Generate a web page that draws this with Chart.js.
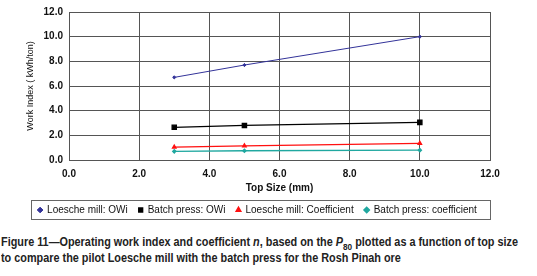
<!DOCTYPE html>
<html><head><meta charset="utf-8">
<script src="https://cdn.jsdelivr.net/npm/chart.js@4/dist/chart.umd.min.js"></script>
<style>
html,body{margin:0;padding:0;background:#fff;}
#wrap{position:absolute;left:0;top:0;width:537px;height:228px;}
#cap{position:absolute;left:1px;top:234px;font-family:"Liberation Sans",Arial,sans-serif;font-weight:bold;font-size:12.5px;line-height:16px;color:#222;white-space:nowrap;}
#cap span{display:inline-block;transform-origin:0 0;}
</style></head><body>
<div id="wrap"><canvas id="c" width="537" height="228"></canvas></div>
<div id="cap"><span id="l1">Figure 11—Operating work index and coefficient <i>n</i>, based on the <i>P</i><sub style="font-size:9.5px;line-height:0">80</sub> plotted as a function of top size</span><br><span id="l2">to compare the pilot Loesche mill with the batch press for the Rosh Pinah ore</span></div>
<script>
const topSize = [3, 5, 10];
const loescheOWi = [6.7, 7.7, 10.0];
const batchOWi = [2.65, 2.8, 3.05];
const loescheCoef = [1.05, 1.15, 1.35];
const batchCoef = [0.7, 0.75, 0.8];
const xTicks = [0, 2, 4, 6, 8, 10, 12];
const yTicks = [0, 2, 4, 6, 8, 10, 12];

// condense caption lines to match reference widths
(function(){
  const l1=document.getElementById('l1'), l2=document.getElementById('l2');
  const s=517/l1.getBoundingClientRect().width;
  l1.style.transform='scaleX('+s+')'; l2.style.transform='scaleX('+s+')';
})();

function pts(ys){ return topSize.map((x,i)=>({x:x,y:ys[i]})); }

const legendBox = {
  id:'legendBox',
  afterDraw(chart){
    const lg = chart.legend; if(!lg || !lg.legendHitBoxes.length) return;
    const hb = lg.legendHitBoxes;
    let minX = Math.min(...hb.map(b=>b.left)), maxX = Math.max(...hb.map(b=>b.left+b.width));
    let minY = Math.min(...hb.map(b=>b.top)), maxY = Math.max(...hb.map(b=>b.top+b.height));
    const ctx = chart.ctx; ctx.save(); ctx.strokeStyle='#666'; ctx.lineWidth=1;
    ctx.strokeRect(Math.round(minX-7)+0.5, Math.round(minY-5)+0.5, Math.round(maxX-minX+20), Math.round(maxY-minY+9));
    ctx.restore();
  }
};

const F = 'Liberation Sans, Arial, sans-serif';
new Chart(document.getElementById('c'), {
  type:'scatter',
  data:{datasets:[
    {label:'Loesche mill: OWi', data:pts(loescheOWi), showLine:true, borderColor:'#333399', backgroundColor:'#333399', borderWidth:1, pointStyle:'rectRot', pointRadius:1.6},
    {label:'Batch press: OWi', data:pts(batchOWi), showLine:true, borderColor:'#000', backgroundColor:'#000', borderWidth:1.3, pointStyle:'rect', pointRadius:3},
    {label:'Loesche mill: Coefficient', data:pts(loescheCoef), showLine:true, borderColor:'#ff1010', backgroundColor:'#ff1010', borderWidth:1.3, pointStyle:'triangle', pointRadius:2},
    {label:'Batch press: coefficient', data:pts(batchCoef), showLine:true, borderColor:'#20a8a0', backgroundColor:'#20a8a0', borderWidth:1.3, pointStyle:'rectRot', pointRadius:1.6}
  ]},
  options:{
    responsive:false, animation:false,
    layout:{padding:{left:25,right:47,top:4,bottom:3}},
    plugins:{
      tooltip:{enabled:false},
      legend:{position:'bottom', labels:{usePointStyle:true, boxWidth:4, boxHeight:4, padding:11, color:'#111', font:{family:F, size:10}}}
    },
    scales:{
      x:{type:'linear', min:0, max:12, afterBuildTicks(s){s.ticks=xTicks.map(v=>({value:v}));},
         afterFit(s){s.height=34;},
         grid:{color:'#555', drawTicks:false, lineWidth:1}, border:{color:'#555'},
         ticks:{padding:8, color:'#111', font:{family:F, size:10, weight:'bold'}, callback:v=>v.toFixed(1)},
         title:{display:true, text:'Top Size (mm)', color:'#111', padding:{top:2,bottom:0}, font:{family:F, size:10, weight:'bold'}}},
      y:{type:'linear', min:0, max:12, afterBuildTicks(s){s.ticks=yTicks.map(v=>({value:v}));},
         afterFit(s){s.width=44;},
         grid:{color:'#555', drawTicks:false, lineWidth:1}, border:{color:'#555'},
         ticks:{padding:6, color:'#111', font:{family:F, size:10, weight:'bold'}, callback:v=>v.toFixed(1)},
         title:{display:true, text:'Work Index ( kWh/ton)', color:'#111', padding:{top:0,bottom:1}, font:{family:F, size:9}}}
    }
  },
  plugins:[legendBox]
});
</script>
</body></html>
